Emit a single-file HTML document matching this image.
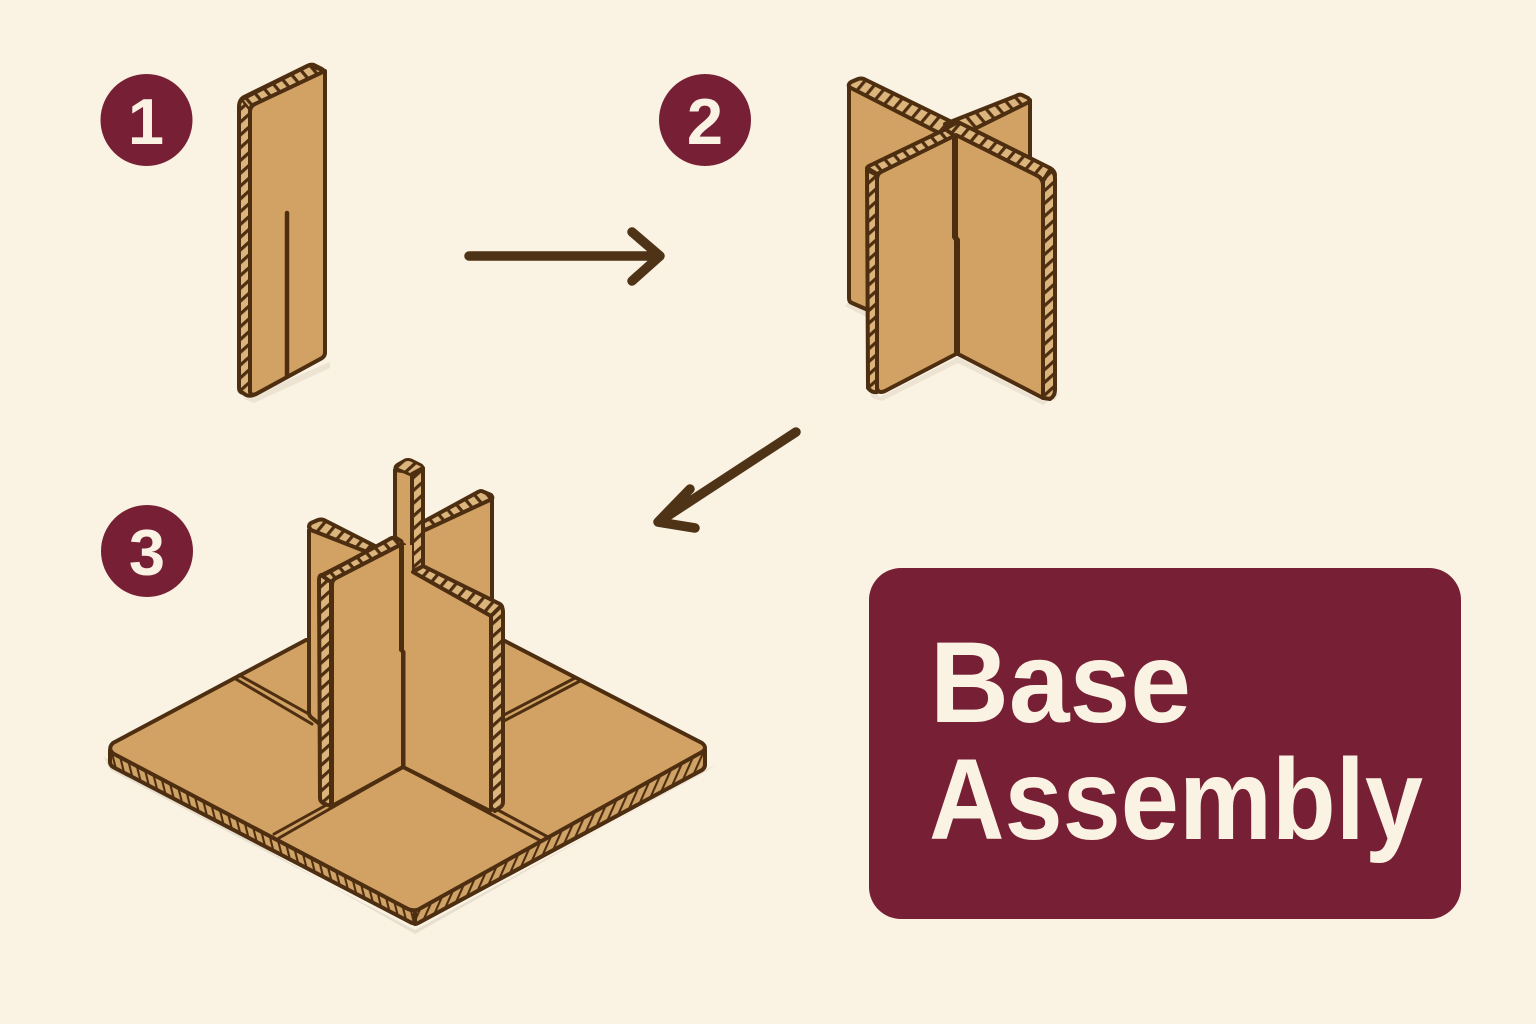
<!DOCTYPE html>
<html><head><meta charset="utf-8"><title>Base Assembly</title>
<style>html,body{margin:0;padding:0;background:#faf2e3}svg{display:block}</style></head>
<body>
<svg xmlns="http://www.w3.org/2000/svg" width="1536" height="1024" viewBox="0 0 1536 1024">
<defs>
<pattern id="hv" width="9.500" height="9.500" patternUnits="userSpaceOnUse" patternTransform="rotate(-42)"><rect width="9.500" height="9.500" fill="#dcb57d"/><rect y="3" width="9.500" height="3.200" fill="#4e2e10"/></pattern>
<pattern id="hd" width="10" height="10" patternUnits="userSpaceOnUse" patternTransform="rotate(-50)"><rect width="10" height="10" fill="#dcb57d"/><rect y="3" width="10" height="3.200" fill="#4e2e10"/></pattern>
<pattern id="hu" width="10" height="10" patternUnits="userSpaceOnUse" patternTransform="rotate(50)"><rect width="10" height="10" fill="#dcb57d"/><rect y="3" width="10" height="3.200" fill="#4e2e10"/></pattern>
<pattern id="bl" width="7" height="7" patternUnits="userSpaceOnUse" patternTransform="rotate(76)"><rect width="7" height="7" fill="#cfa266"/><rect y="2.500" width="7" height="2.100" fill="#4e2e10"/></pattern>
<pattern id="br" width="7.500" height="7.500" patternUnits="userSpaceOnUse" patternTransform="rotate(-66)"><rect width="7.500" height="7.500" fill="#cfa266"/><rect y="2.500" width="7.500" height="2.100" fill="#4e2e10"/></pattern>
</defs>
<rect width="1536" height="1024" fill="#faf2e3"/>

<!-- badges -->
<g fill="#771f35"><circle cx="146.500" cy="120" r="46"/><circle cx="705" cy="120" r="46"/><circle cx="147" cy="551" r="46"/></g>
<g font-family="'Liberation Sans',sans-serif" font-weight="700" font-size="65" fill="#faf2e3" text-anchor="middle">
<text x="146" y="144">1</text><text x="705" y="144">2</text><text x="147" y="575">3</text></g>

<!-- arrows -->
<g fill="none" stroke="#4f3316" stroke-width="9.500" stroke-linecap="round" stroke-linejoin="round">
<path d="M469 256H658M632 232L660 256L632 281"/>
<path d="M796 432L660 521M690 489L658 522L695 528"/>
</g>

<g stroke="#4e2e10" stroke-width="4" stroke-linejoin="round" stroke-linecap="round">

<!-- STEP 1 -->
<path d="M244 399L330 362V368L254 403Z" fill="#ede3d2" stroke="none"/>
<path d="M239 107Q239 100 244 97L307 66Q311 64 314 65L322 69Q325 71 325 75V352Q325 356 322 358L256 394Q250 397 246 395L243 393Q239 392 239 388Z" fill="url(#hv)"/>
<path d="M242 100L309 66L323 71L256 103L250 110Z" fill="url(#hu)" stroke-width="2.500"/>
<path d="M250 112Q250 106 255 104L325 71V352Q325 356 322 358L256 394Q251 396 250 392Z" fill="#d1a264"/>
<path d="M287 213V376" fill="none" stroke-width="4.500"/>

<!-- STEP 2 -->
<path d="M868 387L880 397L958 357L1043 401L1055 400L1060 392L1043 405L958 363L882 401L872 398Z" fill="#ede3d2" stroke="none"/>
<path d="M850 300L868 310V318L845 306Z" fill="#ede3d2" stroke="none"/>
<!-- back right panel -->
<path d="M940 128L1030 100V240H940Z" fill="#d1a264"/>
<!-- back left panel -->
<path d="M849 86V298Q849 302 852 303L868 310V180L960 130Z" fill="#d1a264"/>
<!-- band long back -->
<path d="M849 87Q848 84 851 82L858 79Q861 78 864 79L958 125L950 133L945 136Z" fill="url(#hd)"/>
<!-- band back-right -->
<path d="M945 124L1016 96Q1019 94 1022 95L1028 98Q1030 100 1029 102L958 137Z" fill="url(#hu)"/>
<!-- band front-left -->
<path d="M867 168Q868 166 871 165L948 128L962 134L955 138L877 174Z" fill="url(#hu)"/>
<!-- band front-right -->
<path d="M945 129L958 122L1050 168Q1055 171 1055 175L1043 180L955 136Z" fill="url(#hd)"/>
<!-- front-left strip -->
<path d="M867 170L877 175L877 392Q872 393 868 388Z" fill="url(#hv)"/>
<!-- front-left face -->
<path d="M877 180Q877 174 881 172L954 136V237L956 240V354L885 391Q878 394 877 388Z" fill="#d1a264"/>
<!-- front-right face -->
<path d="M956 135L1036 175Q1043 178 1043 185V398L958 354V240L956 237Z" fill="#d1a264"/>
<!-- front-right strip -->
<path d="M1043 181L1050 170Q1055 172 1055 178V390Q1055 396 1050 399L1043 398Z" fill="url(#hv)"/>
<path d="M954 136V237L957 240V354" fill="none" stroke-width="3.500"/>

<!-- STEP 3 base -->
<path d="M104 757L415 934L716 764L705 772L415 930L110 770Z" fill="#e9dfce" stroke="none"/>
<path d="M110 750V762Q110 765 113 767L410 922Q415 925 420 922L702 770Q705 768 705 764V750L415 905Z" fill="url(#bl)"/>
<path d="M415 910L705 750V764Q705 768 702 770L420 922Q417 924 415 924Z" fill="url(#br)"/>
<path d="M113 743L306 640H503L702 743Q708 748 702 752L421 908Q415 912 408 909L114 754Q107 749 113 743Z" fill="#d1a264"/>
<!-- seams -->
<g stroke-width="3" fill="none">
<path d="M234 678L312 724"/><path d="M239 675L316 718"/>
<path d="M580 681L500 723"/><path d="M575 678L500 717"/>
<path d="M274 834L330 803"/><path d="M279 838L403 767"/>
<path d="M403 767L541 841"/><path d="M496 809L548 837"/>
</g>

<!-- back-right panel -->
<path d="M420 525L492 498V602H420Z" fill="#d1a264"/>
<path d="M423 522L478 492Q481 490 484 492L491 495Q493 497 492 499L423 531Z" fill="url(#hu)"/>
<!-- back-left panel -->
<path d="M309 530V712Q309 716 312 718L322 726V575L375 548L320 525Z" fill="#d1a264"/>
<path d="M309 527Q309 524 311 523L318 520Q321 519 324 520L375 546L367 552L311 530Z" fill="url(#hd)"/>
<!-- tall center -->
<path d="M395 470V545H404V572H413V475L410 472Z" fill="#d1a264"/>
<path d="M395 468Q395 466 398 464L405 460Q408 459 411 460L421 465Q423 466 423 469L411 475Z" fill="url(#hv)" stroke-width="3"/>
<path d="M412 474L423 468V566L412 572Z" fill="url(#hv)"/>
<!-- front right -->
<path d="M412 573L484 611Q491 614 491 620V810L403 767V652L401 650V545L412 545Z" fill="#d1a264" stroke="none"/>
<path d="M490 811L403 767" fill="none"/>
<path d="M413 572L423 566L500 604Q503 606 502 610L491 616Z" fill="url(#hd)"/>
<path d="M491 616L501 606Q503 608 503 612V802Q503 806 499 808L495 811L491 808Z" fill="url(#hv)"/>
<!-- front left -->
<path d="M332 585Q332 580 336 578L402 544V650L403 652V767L332 806Z" fill="#d1a264"/>
<path d="M320 577L388 540Q392 537 396 538L401 541Q403 543 400 545L336 578Q332 580 331 584L320 580Z" fill="url(#hu)"/>
<path d="M319 580Q319 576 321 575L331 582V806L325 804Q320 802 320 798Z" fill="url(#hv)"/>
<path d="M401 545V650L403.500 652V767" fill="none"/>
</g>

<!-- label -->
<rect x="869" y="568" width="592" height="351" rx="32" fill="#771f35"/>
<g font-family="'Liberation Sans',sans-serif" font-size="115" font-weight="700" fill="#faf2e3">
<text x="930" y="722" textLength="261" lengthAdjust="spacingAndGlyphs">Base</text>
<text x="929" y="839" textLength="494" lengthAdjust="spacingAndGlyphs">Assembly</text>
</g>
</svg>
</body></html>
